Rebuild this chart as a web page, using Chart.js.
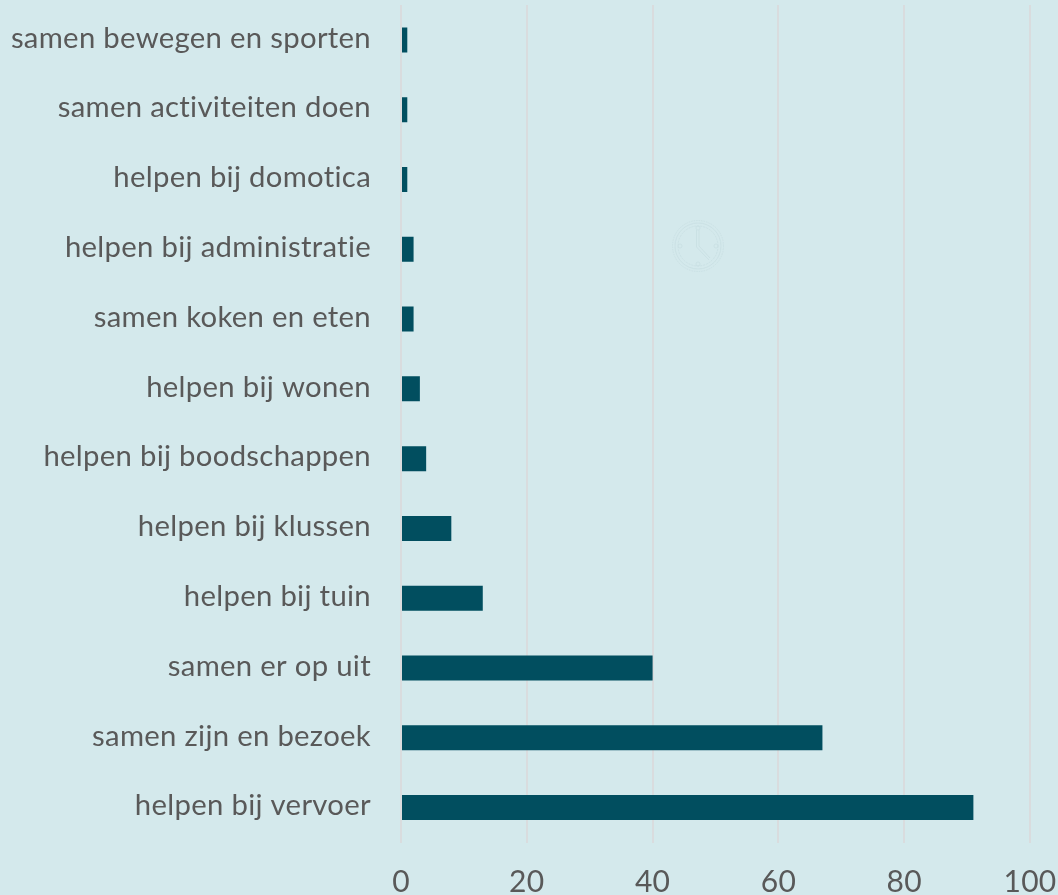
<!DOCTYPE html>
<html><head><meta charset="utf-8">
<style>html,body{margin:0;padding:0;background:#d4e9ec;overflow:hidden}#w{position:relative;width:1058px;height:895px}canvas{display:block}#clock{position:absolute;left:672px;top:219px}</style>
<script src="https://cdn.jsdelivr.net/npm/chart.js@4"></script></head>
<body><div id="w"><canvas id="c" width="1058" height="895"></canvas>
<svg id="clock" width="52" height="54" viewBox="0 0 52 54" fill="none" stroke="#c8dee2" stroke-width="0.8">
<circle cx="26" cy="27" r="25.5" stroke-dasharray="1.5 1"/><circle cx="26" cy="27" r="23"/><circle cx="26" cy="27" r="20" stroke-dasharray="2 1"/>
<circle cx="26" cy="9" r="2"/><circle cx="26" cy="45" r="2"/><circle cx="8" cy="27" r="2"/><circle cx="44" cy="27" r="2"/>
<path d="M24.5 11V28L37 41M27 11V27L38 39"/></svg></div>
<script>
const categories=["samen bewegen en sporten","samen activiteiten doen","helpen bij domotica","helpen bij administratie","samen koken en eten","helpen bij wonen","helpen bij boodschappen","helpen bij klussen","helpen bij tuin","samen er op uit","samen zijn en bezoek","helpen bij vervoer"];
const values=[1,1,1,2,2,3,4,8,13,40,67,91];
const xTicks=[0,20,40,60,80,100];
const spacing={id:'spacing',beforeDraw(c){c.ctx.letterSpacing='0.3px'}};
new Chart(document.getElementById('c'),{type:'bar',plugins:[spacing],
data:{labels:categories,datasets:[{data:values,backgroundColor:'#014e5f',barPercentage:0.358,categoryPercentage:1}]},
options:{indexAxis:'y',responsive:false,animation:false,
layout:{padding:{top:5,right:28,left:0,bottom:0}},
plugins:{legend:{display:false},tooltip:{enabled:false}},
scales:{
x:{min:0,max:100,afterBuildTicks(a){a.ticks=xTicks.map(v=>({value:v}))},
afterFit(a){a.height=52.5;a.paddingLeft=0;a.paddingRight=0},
grid:{color:'#d9dcde',lineWidth:2,drawTicks:false},border:{display:false},
ticks:{color:'#595959',font:{family:'Lato',size:30},maxRotation:0,padding:22}},
y:{grid:{display:false},border:{display:false},
afterFit(a){
  a.width=401;a.paddingTop=0;a.paddingBottom=0;
  if(!a._lifted){a._lifted=true;const f=a._computeLabelItems;
    a._computeLabelItems=function(r){return f.call(this,r).map(i=>{i.options.translation=[i.options.translation[0],i.options.translation[1]-1.7];return i})}}
},
ticks:{color:'#595959',font:{family:'Lato',size:29.3},padding:22,autoSkip:false}}
}}});
</script></body></html>
